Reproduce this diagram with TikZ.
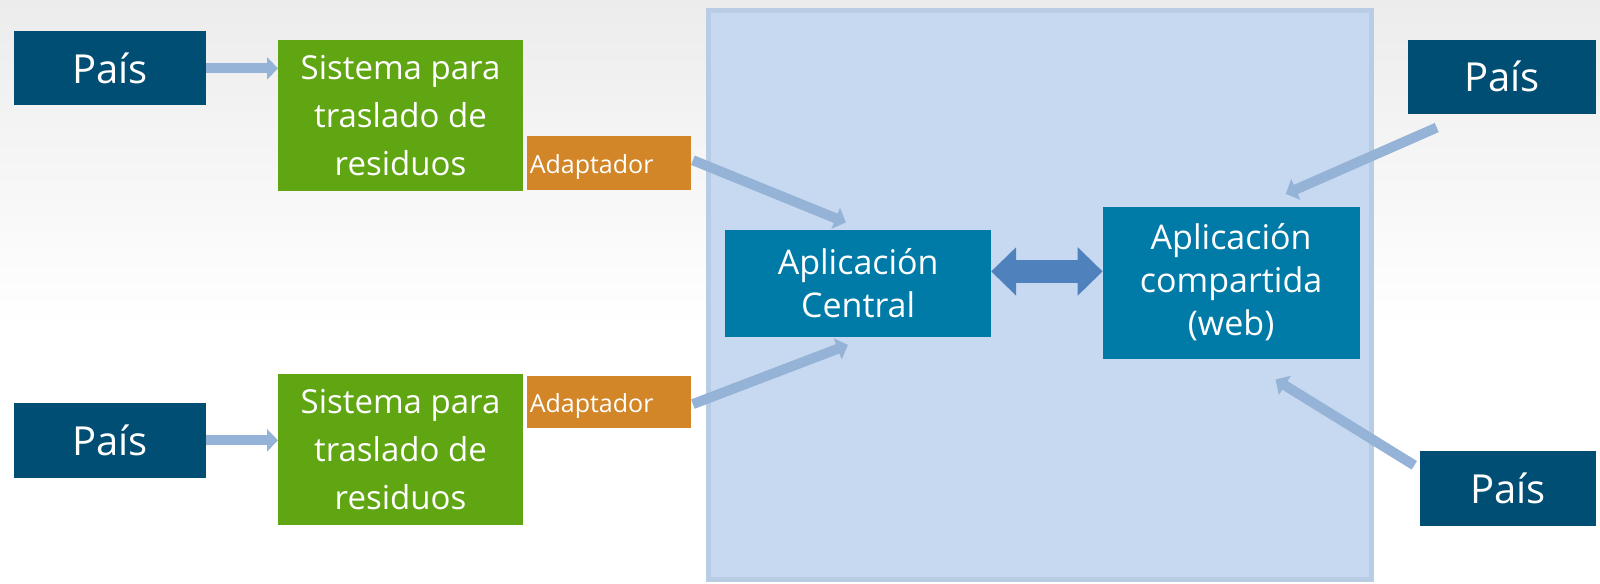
\documentclass[tikz,border=0pt]{standalone}
\usepackage{fontspec}
\setmainfont{Open Sans}
\usetikzlibrary{arrows.meta}
\definecolor{paisblue}{RGB}{1,78,117}
\definecolor{sisgreen}{RGB}{96,165,18}
\definecolor{adorange}{RGB}{211,134,40}
\definecolor{appteal}{RGB}{0,122,167}
\definecolor{bigfill}{RGB}{198,217,240}
\definecolor{bigline}{RGB}{184,204,228}
\definecolor{lightarrow}{RGB}{149,179,215}
\definecolor{dblarrow}{RGB}{79,129,189}
\definecolor{bgtop}{RGB}{236,236,236}
\begin{document}
\begin{tikzpicture}[x=1.0204pt,y=-1.0204pt,
  box/.style={inner sep=0pt,outer sep=0pt,text=white,align=center},
  paisbox/.style={box,fill=paisblue,font=\fontsize{40}{44}\selectfont},
  sisbox/.style={box,fill=sisgreen,font=\fontsize{33}{48}\selectfont},
  adbox/.style={box,fill=adorange},
  adtext/.style={anchor=base west,text=white,inner sep=0pt,font=\fontsize{25}{28}\selectfont},
  appbox/.style={box,fill=appteal,font=\fontsize{34}{43}\selectfont},
  flow/.style={draw=lightarrow,line width=10pt,-{Triangle[length=11pt,width=22pt]}},
  dbl/.style={draw=dblarrow,line width=23pt,{Triangle[length=25pt,width=47pt]}-{Triangle[length=25pt,width=47pt]}}]
\useasboundingbox (0,0) rectangle (1568,572);
% background
\shade[top color=bgtop,bottom color=white] (0,0) rectangle (1568,320);
\fill[white] (0,320) rectangle (1568,572);
% big container
\draw[fill=bigfill,draw=bigline,line width=5pt] (694.5,10.5) rectangle (1344.5,567.5);
% nodes
\node[paisbox,minimum width=192,minimum height=74] (pais1) at (108,67) {País};
\node[paisbox,minimum width=192,minimum height=75] (pais2) at (108,431.5) {País};
\node[paisbox,minimum width=188,minimum height=74] (pais3) at (1472,75) {País};
\node[paisbox,minimum width=176,minimum height=75] (pais4) at (1478,478.5) {País};
\node[sisbox,minimum width=245,minimum height=151] (sis1) at (392.5,113.5) {Sistema para\\traslado de\\residuos};
\node[sisbox,minimum width=245,minimum height=151] (sis2) at (392.5,440.5) {Sistema para\\traslado de\\residuos};
\node[adbox,minimum width=164,minimum height=54] (ad1) at (597,160) {};
\node[adbox,minimum width=164,minimum height=52] (ad2) at (597,394) {};
\node[adtext] (ad1t) at (519,170) {Adaptador};
\node[adtext] (ad2t) at (519,404) {Adaptador};
\node[appbox,minimum width=266,minimum height=107] (central) at (841,277.5) {Aplicación\\Central};
\node[appbox,minimum width=257,minimum height=152] (web) at (1206.5,277) {Aplicación\\compartida\\(web)};
% connectors
\path[flow] (pais1.east) -- (sis1.west |- pais1.east);
\path[flow] (pais2.east) -- (sis2.west |- pais2.east);
\coordinate (a1s) at (679,157);
\coordinate (a1e) at (829,218);
\coordinate (a2s) at (679,396);
\coordinate (a2e) at (831,338);
\coordinate (a3s) at (1408,125);
\coordinate (a3e) at (1260,190);
\coordinate (a4s) at (1386,456);
\coordinate (a4e) at (1250,372);
\path[flow] (a1s) -- (a1e);
\path[flow] (a2s) -- (a2e);
\path[flow] (a3s) -- (a3e);
\path[flow] (a4s) -- (a4e);
\coordinate (d1) at (central.east |- 0,266);
\coordinate (d2) at (web.west |- 0,266);
\path[dbl] (d1) -- (d2);
\end{tikzpicture}
\end{document}
